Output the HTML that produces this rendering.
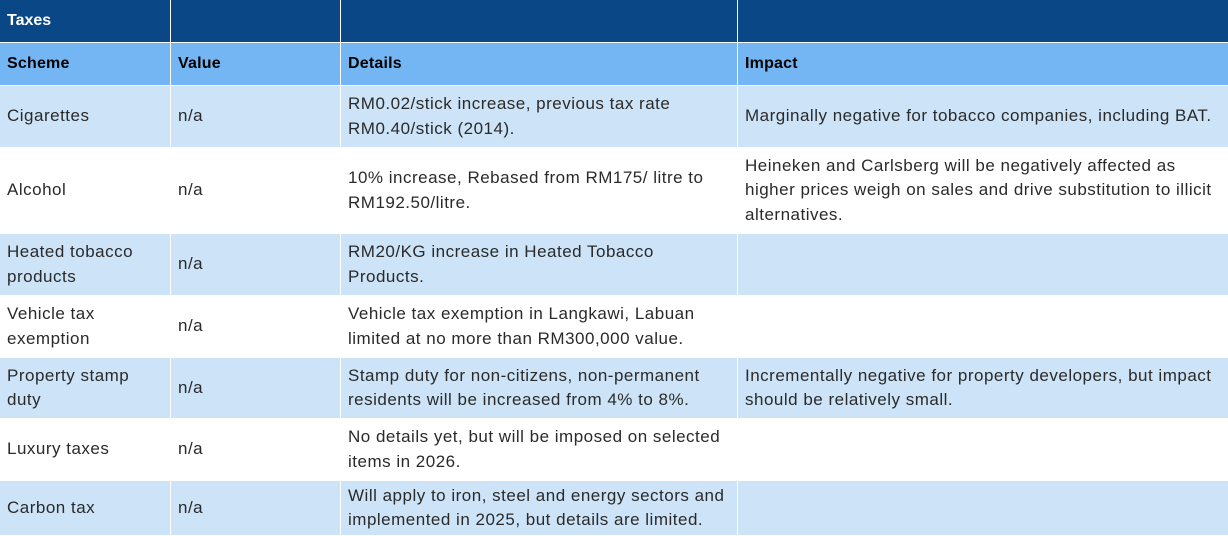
<!DOCTYPE html><html><head><style>
body{margin:0;width:1228px;height:536px;overflow:hidden;background:#fff;font-family:"Liberation Sans",Arial,sans-serif;}
.c{position:absolute;box-sizing:border-box;padding-left:7px;display:flex;align-items:center;font-size:17px;letter-spacing:0.5px;line-height:24.5px;color:#2a2a2a;white-space:nowrap;}
.h{background:#0a4786;color:#fff;font-weight:bold;font-size:16px;letter-spacing:0}
.s{background:#74b5f4;color:#000;font-weight:bold;font-size:16px;letter-spacing:0.2px}
.l{background:#cde4f8}
</style></head><body>
<div id="t"></div>
<script>
var xs=[0,171,341,738,1228];
var ys=[0,43,86,148,234,296,358,419,481,536];
var rows=[
["h",["Taxes","","",""]],
["s",["Scheme","Value","Details","Impact"]],
["l",["Cigarettes","n/a","RM0.02/stick increase, previous tax rate<br>RM0.40/stick (2014).","Marginally negative for tobacco companies, including BAT."]],
["w",["Alcohol","n/a","10% increase, Rebased from RM175/ litre to<br>RM192.50/litre.","Heineken and Carlsberg will be negatively affected as<br>higher prices weigh on sales and drive substitution to illicit<br>alternatives."]],
["l",["Heated tobacco<br>products","n/a","RM20/KG increase in Heated Tobacco<br>Products.",""]],
["w",["Vehicle tax<br>exemption","n/a","Vehicle tax exemption in Langkawi, Labuan<br>limited at no more than RM300,000 value.",""]],
["l",["Property stamp<br>duty","n/a","Stamp duty for non-citizens, non-permanent<br>residents will be increased from 4% to 8%.","Incrementally negative for property developers, but impact<br>should be relatively small."]],
["w",["Luxury taxes","n/a","No details yet, but will be imposed on selected<br>items in 2026.",""]],
["l",["Carbon tax","n/a","Will apply to iron, steel and energy sectors and<br>implemented in 2025, but details are limited.",""]]
];
var h="";
rows.forEach(function(r,i){for(var j=0;j<4;j++){var x=xs[j],w=xs[j+1]-x-(j<3?1:0),y=ys[i],hh=ys[i+1]-y-1;
h+='<div class="c '+r[0]+'" style="left:'+x+'px;top:'+y+'px;width:'+w+'px;height:'+hh+'px">'+r[1][j]+'</div>';}});
document.getElementById("t").innerHTML=h;
</script>
</body></html>
